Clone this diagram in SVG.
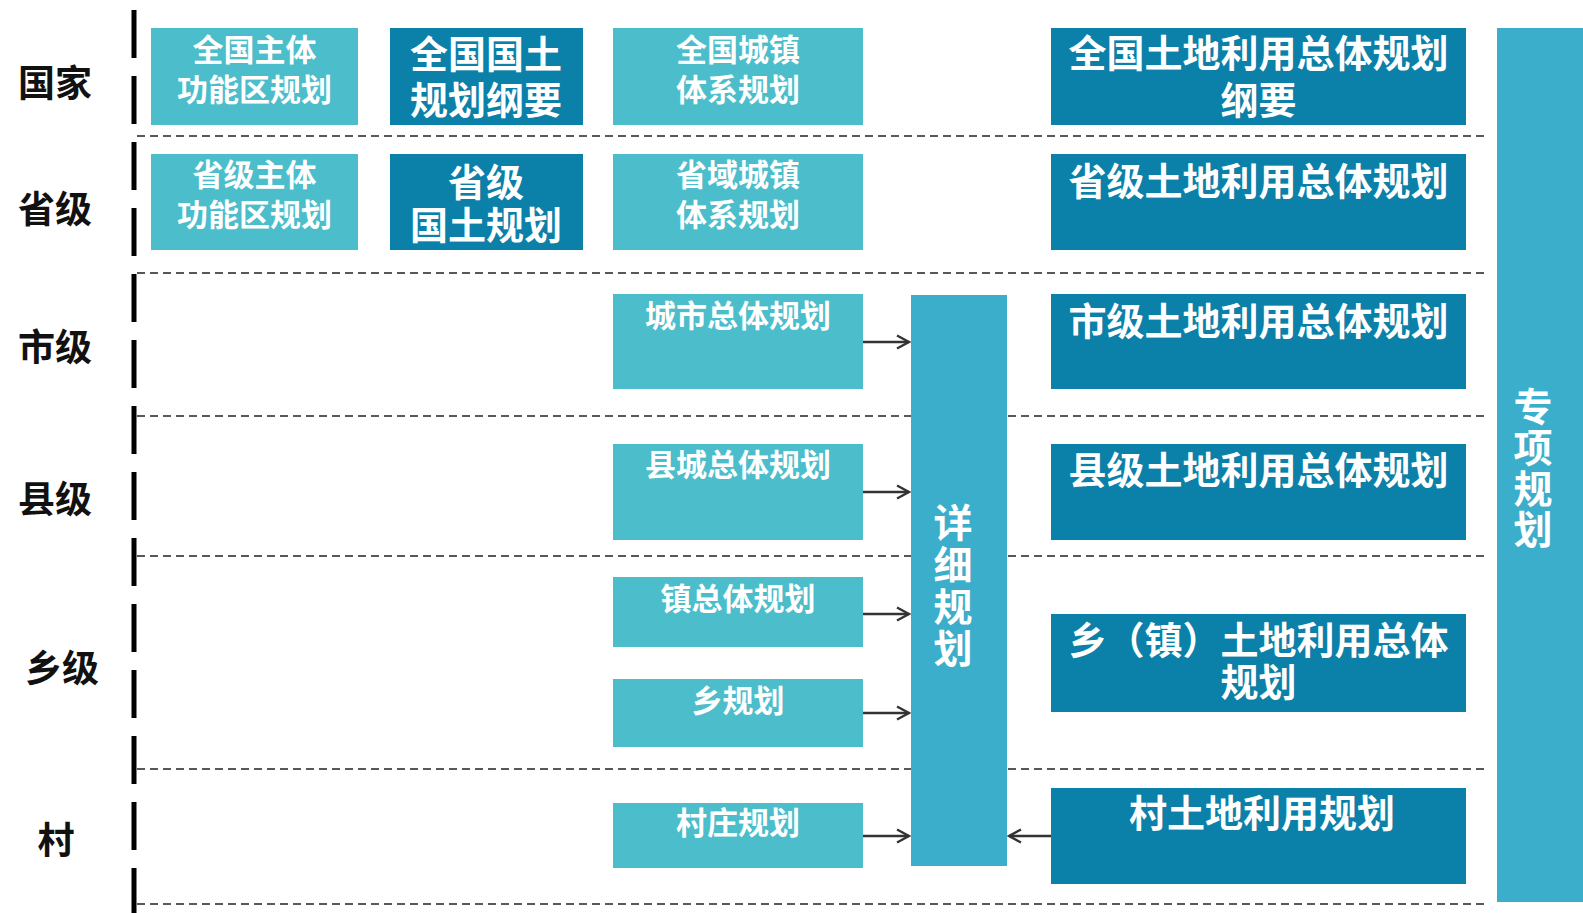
<svg xmlns="http://www.w3.org/2000/svg" width="1583" height="913" viewBox="0 0 1583 913">
<defs>
<style>
.lt{fill:#4cbdca}
.dk{fill:#0b80a8}
.md{fill:#3baecb}
.t{font-family:"Noto Sans CJK SC","Noto Sans",sans-serif;font-weight:bold;fill:#ffffff;text-anchor:middle;dominant-baseline:central}
.s{font-size:31px}
.b{font-size:38px}
.v{font-size:39px;writing-mode:vertical-rl}
.lab{font-family:"Noto Sans CJK SC","Noto Sans",sans-serif;font-weight:bold;fill:#111111;font-size:37px;text-anchor:middle;dominant-baseline:central}
.hd{stroke:#222;stroke-width:1.6;stroke-dasharray:8 5;fill:none}
.ar{stroke:#333;stroke-width:2.4;fill:none}
</style>
<marker id="ah" viewBox="0 0 16 16" refX="14" refY="8" markerWidth="16" markerHeight="16" markerUnits="userSpaceOnUse" orient="auto">
<path d="M2,1.5 L14,8 L2,14.5" fill="none" stroke="#333" stroke-width="2.4"/>
</marker>
</defs>
<rect width="1583" height="913" fill="#ffffff"/>
<g id="grid">
<line x1="134" y1="10" x2="134" y2="913" stroke="#000" stroke-width="5" stroke-dasharray="48 18"/>
<line class="hd" x1="137" y1="136" x2="1489" y2="136"/>
<line class="hd" x1="137" y1="273" x2="1489" y2="273"/>
<line class="hd" x1="137" y1="416" x2="1489" y2="416"/>
<line class="hd" x1="137" y1="556" x2="1489" y2="556"/>
<line class="hd" x1="137" y1="769" x2="1489" y2="769"/>
<line class="hd" x1="137" y1="904" x2="1489" y2="904"/>
</g>
<g id="labels">
<text class="lab" x="55" y="81">国家</text>
<text class="lab" x="55" y="207">省级</text>
<text class="lab" x="55" y="345">市级</text>
<text class="lab" x="55" y="497">县级</text>
<text class="lab" x="62" y="666">乡级</text>
<text class="lab" x="56" y="838">村</text>
</g>
<g id="n1"><rect class="lt" x="151" y="28" width="207" height="97"/><text class="t s" x="254.5" y="47.5">全国主体</text><text class="t s" x="254.5" y="87">功能区规划</text></g>
<g id="n2"><rect class="dk" x="390" y="28" width="193" height="97"/><text class="t b" x="486" y="51.5">全国国土</text><text class="t b" x="486" y="97">规划纲要</text></g>
<g id="n3"><rect class="lt" x="613" y="28" width="250" height="97"/><text class="t s" x="738" y="47.5">全国城镇</text><text class="t s" x="738" y="87">体系规划</text></g>
<g id="n4"><rect class="dk" x="1051" y="28" width="415" height="97"/><text class="t b" x="1258.5" y="50.5">全国土地利用总体规划</text><text class="t b" x="1258.5" y="97">纲要</text></g>
<g id="n5"><rect class="lt" x="151" y="154" width="207" height="96"/><text class="t s" x="254.5" y="172.5">省级主体</text><text class="t s" x="254.5" y="212">功能区规划</text></g>
<g id="n6"><rect class="dk" x="390" y="154" width="193" height="96"/><text class="t b" x="486" y="179">省级</text><text class="t b" x="486" y="222">国土规划</text></g>
<g id="n7"><rect class="lt" x="613" y="154" width="250" height="96"/><text class="t s" x="738" y="172.5">省域城镇</text><text class="t s" x="738" y="212">体系规划</text></g>
<g id="n8"><rect class="dk" x="1051" y="154" width="415" height="96"/><text class="t b" x="1258.5" y="178">省级土地利用总体规划</text></g>
<g id="n9"><rect class="lt" x="613" y="294" width="250" height="95"/><text class="t s" x="738" y="313">城市总体规划</text></g>
<g id="n10"><rect class="dk" x="1051" y="294" width="415" height="95"/><text class="t b" x="1258.5" y="318">市级土地利用总体规划</text></g>
<g id="n11"><rect class="lt" x="613" y="444" width="250" height="96"/><text class="t s" x="738" y="462">县城总体规划</text></g>
<g id="n12"><rect class="dk" x="1051" y="444" width="415" height="96"/><text class="t b" x="1258.5" y="467.5">县级土地利用总体规划</text></g>
<g id="n13"><rect class="lt" x="613" y="577" width="250" height="70"/><text class="t s" x="738" y="596.5">镇总体规划</text></g>
<g id="n14"><rect class="lt" x="613" y="679" width="250" height="68"/><text class="t s" x="738" y="698.5">乡规划</text></g>
<g id="n15"><rect class="dk" x="1051" y="614" width="415" height="98"/><text class="t b" x="1258.5" y="637">乡（镇）土地利用总体</text><text class="t b" x="1258.5" y="679.5">规划</text></g>
<g id="n16"><rect class="lt" x="613" y="803" width="250" height="65"/><text class="t s" x="738" y="820.5">村庄规划</text></g>
<g id="n17"><rect class="dk" x="1051" y="788" width="415" height="96"/><text class="t b" x="1262" y="810.5">村土地利用规划</text></g>
<g id="n18"><rect class="md" x="911" y="295" width="96" height="571"/><text class="t v" x="953" y="587" letter-spacing="3">详细规划</text></g>
<g id="n19"><rect class="md" x="1497" y="28" width="86" height="874"/><text class="t v" x="1533" y="469" letter-spacing="2">专项规划</text></g>
<g id="connectors">
<line class="ar" x1="863" y1="342" x2="909" y2="342" marker-end="url(#ah)"/>
<line class="ar" x1="863" y1="492" x2="909" y2="492" marker-end="url(#ah)"/>
<line class="ar" x1="863" y1="614" x2="909" y2="614" marker-end="url(#ah)"/>
<line class="ar" x1="863" y1="713" x2="909" y2="713" marker-end="url(#ah)"/>
<line class="ar" x1="863" y1="836" x2="909" y2="836" marker-end="url(#ah)"/>
<line class="ar" x1="1051" y1="836" x2="1009" y2="836" marker-end="url(#ah)"/>
</g>
</svg>
